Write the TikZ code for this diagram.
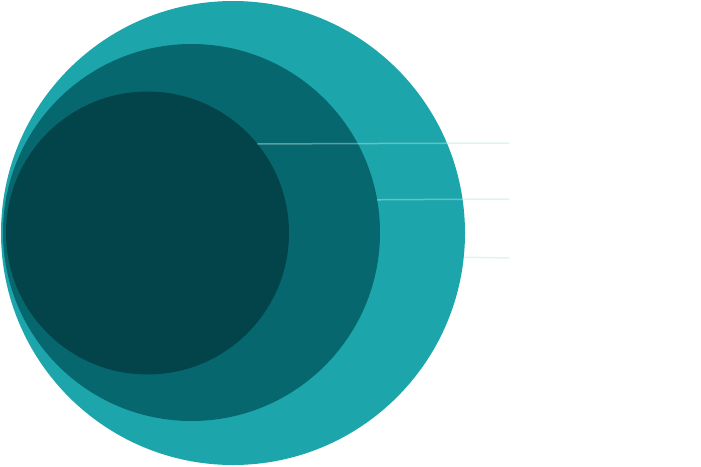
\documentclass[tikz,border=0pt]{standalone}
\definecolor{outerteal}{RGB}{28,166,171}
\definecolor{midteal}{RGB}{6,104,110}
\definecolor{innerteal}{RGB}{3,68,75}
\definecolor{guideline}{RGB}{191,227,229}
\begin{document}
\begin{tikzpicture}[x=1pt, y=-1pt,
  ring/.style={circle, inner sep=0pt, outer sep=0pt},
  guide/.style={draw=guideline, draw opacity=0.45, line width=1.5pt}]
\useasboundingbox (0,0) rectangle (701,466);
\node[ring, fill=outerteal, minimum size=464pt] (outer) at (233,233) {};
\node[ring, fill=midteal, minimum size=377pt] (middle) at (191.5,232.5) {};
\node[ring, fill=innerteal, minimum size=283pt] (inner) at (147.5,233) {};
\coordinate (end1) at (509,143);
\coordinate (end2) at (509,199);
\coordinate (end3) at (509,258);
\draw[guide] (inner.39.5) -- (end1);
\draw[guide] (middle.10.2) -- (end2);
\draw[guide] (outer.-6.2) -- (end3);
\end{tikzpicture}
\end{document}
